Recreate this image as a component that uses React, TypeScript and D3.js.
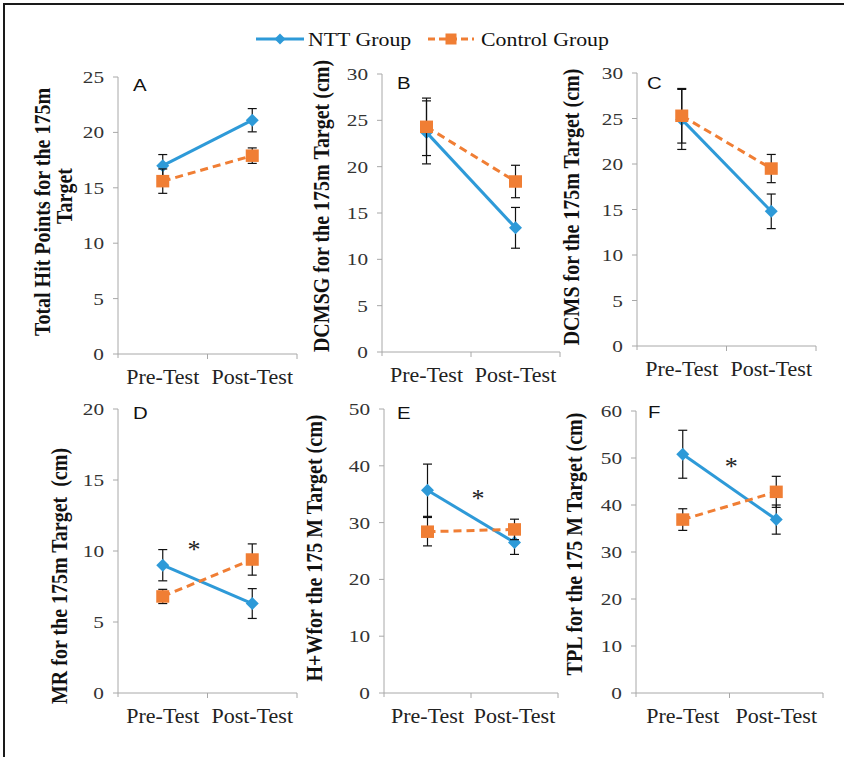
import React from 'react';
import * as d3 from 'd3';

// data
const categories = ['Pre-Test', 'Post-Test'];
const panelLetters = ['A', 'B', 'C', 'D', 'E', 'F'];
const yTitles = [
  ['Total Hit Points for the 175m', 'Target'],
  ['DCMSG for the 175m Target (cm)'],
  ['DCMS for the 175m Target (cm)'],
  ['MR for the 175m Target  (cm)'],
  ['H+Wfor the 175 M Target (cm)'],
  ['TPL for the 175 M Target (cm)'],
];
const yMaxes = [25, 30, 30, 20, 50, 60];
const yTickSteps = [5, 5, 5, 5, 10, 10];

const nttMeans = [[17.0, 21.1], [23.7, 13.4], [24.9, 14.8], [9.0, 6.3], [35.7, 26.5], [50.8, 36.9]];
const nttErrors = [[1.0, 1.05], [3.4, 2.2], [3.3, 1.9], [1.1, 1.05], [4.6, 2.1], [5.1, 3.1]];
const controlMeans = [[15.6, 17.9], [24.3, 18.4], [25.3, 19.5], [6.8, 9.4], [28.4, 28.8], [36.9, 42.8]];
const controlErrors = [[1.1, 0.7], [3.1, 1.75], [3.0, 1.55], [0.5, 1.1], [2.5, 1.8], [2.3, 3.3]];

// significance marks: [fraction between categories, value] or null
const stars: (number[] | null)[] = [null, null, null, [0.35, 10.3], [0.58, 34.7], [0.52, 48.7]];

const seriesNames = ['NTT Group', 'Control Group'];

// layout of each panel (pixels)
const layout = [
  { x0: 118, x1: 297, yTop: 77, yZero: 354, tx: [50, 72], ty: [212, 196], lx: 133, ly: 91 },
  { x0: 382, x1: 560, yTop: 74, yZero: 352, tx: [329], ty: [206], lx: 397, ly: 89 },
  { x0: 637, x1: 816, yTop: 73, yZero: 346, tx: [579], ty: [207], lx: 647, ly: 89 },
  { x0: 118, x1: 297, yTop: 409, yZero: 693, tx: [67], ty: [576], lx: 133, ly: 419 },
  { x0: 384, x1: 558, yTop: 409, yZero: 693, tx: [322], ty: [548], lx: 397, ly: 419 },
  { x0: 636, x1: 823, yTop: 411, yZero: 693, tx: [582], ty: [544], lx: 648, ly: 418 },
];

const BLUE = '#2E9AD8';
const ORANGE = '#F07E34';
const AXIS = '#a8a8a8';
const SERIF = 'Liberation Serif, Times New Roman, serif';
const SANS = 'Liberation Sans, Arial, sans-serif';

const diamond = (r: number) => `M0,${-r}L${r},0L0,${r}L${-r},0Z`;

const Panel = ({ i }: { i: number }) => {
  const L = layout[i];
  const x = d3.scaleBand<string>().domain(categories).range([L.x0, L.x1]).padding(0);
  const y = d3.scaleLinear().domain([0, yMaxes[i]]).range([L.yZero, L.yTop]);
  const ticks = d3.range(0, yMaxes[i] + 0.001, yTickSteps[i]);
  const cx = (c: string) => (x(c) as number) + x.bandwidth() / 2;
  const line = d3.line<number>().x((_, k) => cx(categories[k])).y(v => y(v));

  const series = [
    { means: nttMeans[i], errs: nttErrors[i], color: BLUE, dash: undefined, kind: 'diamond' },
    { means: controlMeans[i], errs: controlErrors[i], color: ORANGE, dash: '8,5', kind: 'square' },
  ];
  const star = stars[i];

  return (
    <g>
      {/* axes */}
      <line x1={L.x0} x2={L.x0} y1={L.yTop} y2={L.yZero + 4} stroke={AXIS} />
      <line x1={L.x0} x2={L.x1} y1={L.yZero} y2={L.yZero} stroke={AXIS} />
      {ticks.map(t => (
        <g key={t}>
          <line x1={L.x0 - 5} x2={L.x0} y1={y(t)} y2={y(t)} stroke={AXIS} />
          <text
            transform={`translate(${L.x0 - 14},${y(t) + 6}) scale(1.25,1)`}
            textAnchor="end" style={{ fontFamily: SERIF }} fontSize={17} fill="#333">{t}</text>
        </g>
      ))}
      {[x(categories[1]) as number, L.x1].map((tx, k) => (
        <line key={k} x1={tx} x2={tx} y1={L.yZero} y2={L.yZero + 5} stroke={AXIS} />
      ))}
      {categories.map(c => (
        <text key={c} transform={`translate(${cx(c)},${L.yZero + 30}) scale(1.1,1)`}
          textAnchor="middle" style={{ fontFamily: SERIF }} fontSize={20} fill="#222">{c}</text>
      ))}
      {/* y title */}
      {yTitles[i].map((t, k) => (
        <text key={k}
          transform={`translate(${L.tx[k]},${L.ty[k]}) scale(1.2,1) rotate(-90)`}
          textAnchor="middle" style={{ fontFamily: SERIF, whiteSpace: 'pre' }} fontWeight="bold"
          fontSize={20} fill="#111">{t}</text>
      ))}
      {/* panel letter */}
      <text transform={`translate(${L.lx},${L.ly}) scale(1.2,1)`} style={{ fontFamily: SANS }}
        fontSize={17} fill="#111">
        {panelLetters[i]}
      </text>
      {/* series */}
      {series.map((s, si) => (
        <g key={si}>
          <path d={line(s.means) as string} fill="none" stroke={s.color} strokeWidth={3}
            strokeDasharray={s.dash} />
          {s.means.map((m, k) => {
            const px = cx(categories[k]);
            const top = y(m + s.errs[k]);
            const bot = y(m - s.errs[k]);
            return (
              <g key={k} stroke="#111" strokeWidth={1.2}>
                <line x1={px} x2={px} y1={top} y2={bot} />
                <line x1={px - 4.5} x2={px + 4.5} y1={top} y2={top} />
                <line x1={px - 4.5} x2={px + 4.5} y1={bot} y2={bot} />
              </g>
            );
          })}
          {s.means.map((m, k) => {
            const px = cx(categories[k]);
            return s.kind === 'diamond'
              ? <path key={k} d={diamond(6.5)} transform={`translate(${px},${y(m)})`} fill={s.color} />
              : <rect key={k} x={px - 6.5} y={y(m) - 6.25} width={13} height={12.5} fill={s.color} />;
          })}
        </g>
      ))}
      {star && (
        <text x={cx(categories[0]) + star[0] * x.bandwidth()} y={y(star[1]) + 11}
          textAnchor="middle" style={{ fontFamily: SERIF }} fontSize={26} fill="#222">*</text>
      )}
    </g>
  );
};

export default function App() {
  return (
    <svg width={844} height={757} style={{ position: 'absolute', left: 0, top: 0, background: '#fff' }}>
      <rect width={844} height={757} fill="#fff" />
      {/* frame (only top and left visible) */}
      <line x1={4} x2={4} y1={3} y2={757} stroke="#1a1a1a" strokeWidth={2} />
      <line x1={3} x2={844} y1={4} y2={4} stroke="#1a1a1a" strokeWidth={2} />
      {/* legend */}
      <g>
        <line x1={256} x2={304} y1={39} y2={39} stroke={BLUE} strokeWidth={3} />
        <path d={diamond(5.5)} transform="translate(280,39)" fill={BLUE} />
        <text transform="translate(308,46) scale(1.12,1)" style={{ fontFamily: SERIF }} fontSize={19.5} fill="#111">
          {seriesNames[0]}
        </text>
        <line x1={428} x2={474} y1={39} y2={39} stroke={ORANGE} strokeWidth={3} strokeDasharray="7,4" />
        <rect x={445.5} y={33.5} width={11} height={11} fill={ORANGE} />
        <text transform="translate(481,46) scale(1.12,1)" style={{ fontFamily: SERIF }} fontSize={19.5} fill="#111">
          {seriesNames[1]}
        </text>
      </g>
      {layout.map((_, i) => <Panel key={i} i={i} />)}
    </svg>
  );
}
